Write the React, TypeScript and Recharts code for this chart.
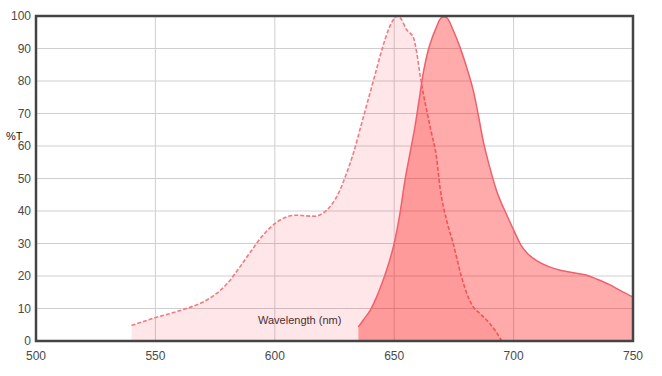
import { ComposedChart, Area, XAxis, YAxis, CartesianGrid, ReferenceArea } from 'recharts'

// excitation spectrum (dashed)
const exWl = [540, 545, 550, 555, 560, 565, 570, 575, 580, 585, 590, 595, 600, 605, 609, 613, 617, 620, 623, 627, 630, 633, 636, 639, 642, 645, 648, 650, 651.5, 653, 655, 657, 658, 659.5, 661, 663.6, 665.6, 667.7, 669.2, 672, 674.7, 678.2, 681, 683.1, 686, 690, 692.5, 695]
const exVal = [4.8, 6.0, 7.2, 8.2, 9.3, 10.5, 12.0, 14.3, 17.6, 22.4, 27.6, 32.5, 36.1, 38.2, 38.7, 38.5, 38.4, 39.3, 41.2, 46.0, 51.5, 58.0, 66.0, 74.0, 82.0, 90.0, 96.5, 99.2, 100, 99, 96, 94.5, 93.5, 88.5, 81, 71, 64, 56.6, 47.2, 37, 30, 19.7, 13.5, 10.5, 8.4, 5.4, 3, 0]

// emission spectrum (solid)
const emWl = [635, 637, 640, 642.6, 645, 646.8, 650.3, 652.4, 654.5, 656.6, 658.7, 660.5, 662.3, 664.2, 666, 667.7, 669, 670.5, 672, 674.7, 677.5, 680.3, 683.1, 685.1, 687.2, 690, 692.8, 697, 700, 703, 706, 710, 715, 720, 725, 730, 735, 740, 745, 750]
const emVal = [4.3, 6.4, 9.5, 13.5, 18, 21.8, 31, 39.2, 49.4, 57.7, 66, 74.5, 83, 89.4, 93.5, 96.6, 98.8, 99.8, 99.5, 95.6, 90.5, 84.3, 77.1, 70, 61.8, 53.5, 46.4, 39.0, 34.2, 29.6, 26.8, 24.6, 22.8, 21.7, 21.0, 20.4, 19.0, 17.4, 15.4, 13.5]

const xTicks = [500, 550, 600, 650, 700, 750]
const yTicks = [0, 10, 20, 30, 40, 50, 60, 70, 80, 90, 100]

type Row = { wl: number; ex?: number; em?: number }

const byWl = new Map<number, Row>()
exWl.forEach((w, i) => {
  byWl.set(w, { ...(byWl.get(w) || { wl: w }), ex: exVal[i] })
})
emWl.forEach((w, i) => {
  byWl.set(w, { ...(byWl.get(w) || { wl: w }), em: emVal[i] })
})
const data = Array.from(byWl.values()).sort((a, b) => a.wl - b.wl)

const font = 'Arial, "Liberation Sans", sans-serif'
const tickStyle = { fill: '#4a4a4a', fontSize: 12, fontFamily: font }

export default function App() {
  return (
    <div style={{ position: 'absolute', left: 0, top: 0, width: 662, height: 376, background: '#fff' }}>
      <ComposedChart
        width={662}
        height={376}
        data={data}
        margin={{ top: 16, right: 29, bottom: 0, left: 0 }}
      >
        <CartesianGrid stroke="#cfcfcf" strokeWidth={1} />
        <XAxis
          dataKey="wl"
          type="number"
          domain={[500, 750]}
          ticks={xTicks}
          height={35}
          tick={tickStyle}
          tickLine={false}
          axisLine={false}
          tickSize={0}
          tickMargin={10}
          allowDataOverflow
        />
        <YAxis
          type="number"
          domain={[0, 100]}
          ticks={yTicks}
          width={36}
          tick={tickStyle}
          tickLine={false}
          axisLine={false}
          tickSize={0}
          tickMargin={5}
          label={{
            value: '%T',
            content: () => (
              <text x={6} y={140} fontSize={11} fontFamily={font} fill="#111">%T</text>
            ),
          }}
        />
        <Area
          type="monotone"
          dataKey="ex"
          connectNulls
          stroke="#f27a82"
          strokeWidth={1.6}
          strokeDasharray="4 2"
          fill="#ff0a1e"
          fillOpacity={0.1}
          dot={false}
          activeDot={false}
          isAnimationActive={false}
        />
        <Area
          type="monotone"
          dataKey="em"
          connectNulls
          stroke="#f0606c"
          strokeWidth={1.5}
          fill="#ff0000"
          fillOpacity={0.33}
          dot={false}
          activeDot={false}
          isAnimationActive={false}
        />
        <ReferenceArea
          x1={500}
          x2={750}
          y1={0}
          y2={100}
          fill="none"
          stroke="#444"
          strokeWidth={2.5}
          ifOverflow="visible"
        />
        <text x={258} y={324} fontSize={11} fontFamily={font} fill="#333">Wavelength (nm)</text>
      </ComposedChart>
    </div>
  )
}
